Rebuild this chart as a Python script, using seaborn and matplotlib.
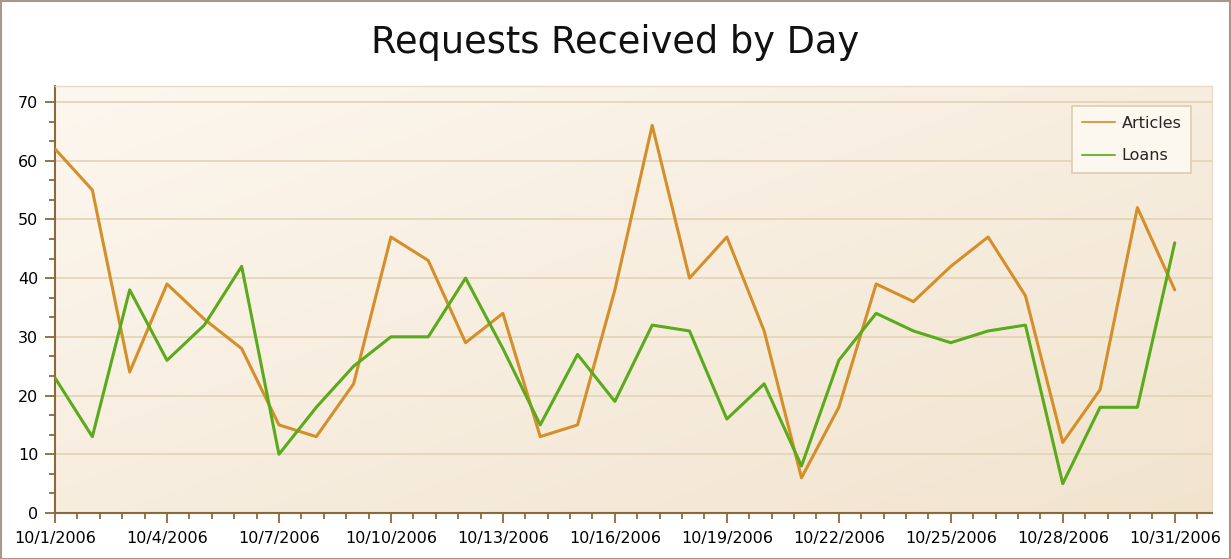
import numpy as np
import pandas as pd
import seaborn as sns
import matplotlib.pyplot as plt
from matplotlib.ticker import MultipleLocator, AutoMinorLocator, FixedLocator, FixedFormatter
from matplotlib.patches import Rectangle

days = [f"10/{d}/2006" for d in range(1, 32)]
articles = [62, 55, 24, 39, 33, 28, 15, 13, 22, 47, 43, 29, 34, 13, 15, 38,
            66, 40, 47, 31, 6, 18, 39, 36, 42, 47, 37, 12, 21, 52, 38]
loans = [23, 13, 38, 26, 32, 42, 10, 18, 25, 30, 30, 40, 28, 15, 27, 19,
         32, 31, 16, 22, 8, 26, 34, 31, 29, 31, 32, 5, 18, 18, 46]

df = pd.DataFrame({"day": range(len(days)), "Articles": articles, "Loans": loans})
long = df.melt(id_vars="day", var_name="series", value_name="requests")

sns.set_style("white")
plt.rcParams["font.family"] = ["DejaVu Sans"]

fig = plt.figure(figsize=(12.31, 5.59), dpi=100)
ax = fig.add_axes([0.0447, 0.0823, 0.9399, 0.7637])

# gradient background, light top-left to warmer bottom-right
grad = np.linspace(0, 1, 256)
gx, gy = np.meshgrid(grad, grad)
g = gx * 0.5 + gy * 0.5
c0 = np.array([253, 247, 239]) / 255
c1 = np.array([241, 228, 207]) / 255
img = c0[None, None, :] * (1 - g[..., None]) + c1[None, None, :] * g[..., None]
ax.imshow(img, extent=[0, 1, 0, 1], transform=ax.transAxes, aspect="auto", zorder=0)

sns.lineplot(data=long, x="day", y="requests", hue="series",
             palette={"Articles": "#d48f2a", "Loans": "#5aaa1c"},
             linewidth=2.2, ax=ax, zorder=3)

ax.set_xlim(0, 31)
ax.set_ylim(0, 72.7)
ax.set_xlabel("")
ax.set_ylabel("")

ax.yaxis.set_major_locator(MultipleLocator(10))
ax.yaxis.set_minor_locator(AutoMinorLocator(3))
ax.xaxis.set_major_locator(FixedLocator(list(range(0, 31, 3))))
ax.xaxis.set_major_formatter(FixedFormatter(days[::3]))
ax.xaxis.set_minor_locator(MultipleLocator(0.6))

ax.grid(axis="y", which="major", color="#e2d3b6", linewidth=1.2, zorder=1)
ax.set_axisbelow(True)

spine_c = "#8a6a3a"
for s in ["left", "bottom"]:
    ax.spines[s].set_color(spine_c)
    ax.spines[s].set_linewidth(1.5)
for s in ["top", "right"]:
    ax.spines[s].set_color("#e8dcc8")
    ax.spines[s].set_linewidth(1)

ax.tick_params(axis="both", which="both", bottom=True, left=True)
ax.tick_params(axis="both", which="major", direction="out", length=7, width=1.3,
               color=spine_c, labelsize=11.5, labelcolor="#000000")
ax.tick_params(axis="both", which="minor", direction="out", length=4, width=1.3,
               color=spine_c)
ax.tick_params(axis="x", which="major", pad=6)
ax.tick_params(axis="y", which="major", pad=5)

ax.set_title("Requests Received by Day", fontsize=26.5, pad=24, color="#111111", x=0.484)

leg = ax.legend(loc="upper right", bbox_to_anchor=(0.9818, 0.953), frameon=True,
                fancybox=False, fontsize=11.5, handlelength=2.1, handletextpad=0.4,
                borderpad=0.6, labelspacing=1.1, borderaxespad=0)
leg.get_frame().set_edgecolor("#dccfae")
leg.get_frame().set_facecolor("#fcf8f0")
leg.get_frame().set_linewidth(1.2)
leg.get_frame().set_alpha(1)
for line in leg.get_lines():
    line.set_linewidth(1.5)
    line.set_alpha(0.85)
leg.set_title(None)

fig.patches.append(Rectangle((0.0005, 0.0), 0.999, 0.998, transform=fig.transFigure,
                             fill=False, edgecolor="#a8988a", linewidth=1.5))

fig.savefig("out.png", dpi=100, facecolor="white")
